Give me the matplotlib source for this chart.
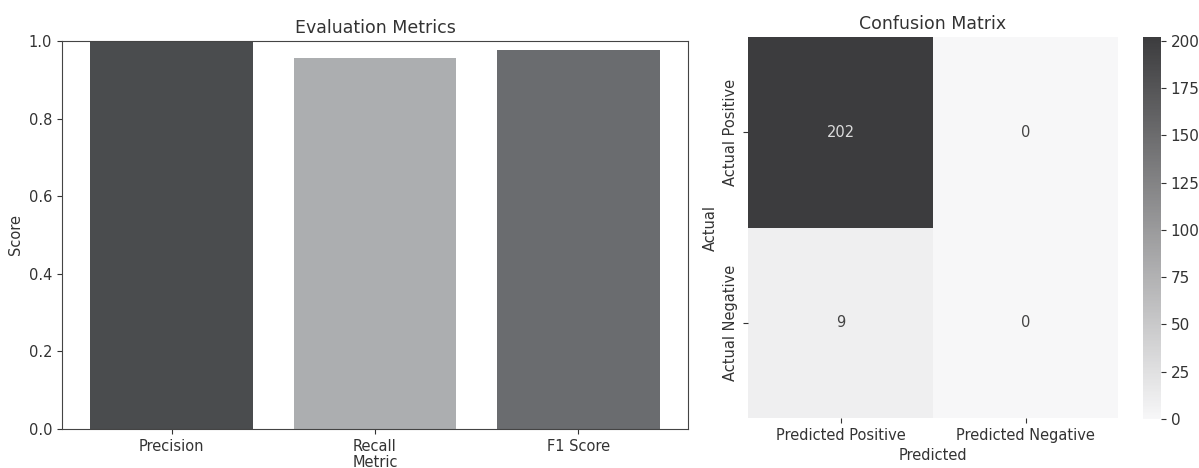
import numpy as np
import matplotlib
matplotlib.use("Agg")
import matplotlib.pyplot as plt
import seaborn as sns
from matplotlib.colors import LinearSegmentedColormap

# evaluation results
metrics = ["Precision", "Recall", "F1 Score"]
scores = [1.0, 0.957, 0.978]
bar_colors = ["#4a4c4e", "#acaeb0", "#6a6c6f"]

cm_values = [[202, 0],
             [9, 0]]
cm_cols = ["Predicted Positive", "Predicted Negative"]
cm_rows = ["Actual Positive", "Actual Negative"]

plt.rcParams["font.family"] = ["DejaVu Sans"]
plt.rcParams["font.size"] = 10.5
plt.rcParams["text.color"] = "#333333"
plt.rcParams["axes.labelcolor"] = "#333333"
plt.rcParams["xtick.color"] = "#333333"
plt.rcParams["ytick.color"] = "#333333"
plt.rcParams["axes.edgecolor"] = "#444444"

fig = plt.figure(figsize=(11.99, 4.68), dpi=100)

# bar chart of the scores
ax1 = fig.add_axes([62 / 1199, 1 - 429 / 468, 626 / 1199, 388 / 468])
ax1.bar(metrics, scores, color=bar_colors, width=0.8)
ax1.set_ylim(0, 1.0)
ax1.set_yticks(np.arange(0, 1.01, 0.2))
ax1.set_title("Evaluation Metrics", fontsize=12.5)
ax1.set_xlabel("Metric", labelpad=1)
ax1.set_ylabel("Score")

# confusion matrix heatmap
ax2 = fig.add_axes([748 / 1199, 1 - 418 / 468, 370 / 1199, 381 / 468])
cax = fig.add_axes([1143 / 1199, 1 - 419 / 468, 18 / 1199, 382 / 468])
cmap = LinearSegmentedColormap.from_list("grey_cm", ["#f7f7f8", "#3c3c3e"])
sns.heatmap(np.array(cm_values), annot=True, fmt="d", cmap=cmap,
            vmin=0, vmax=202, xticklabels=cm_cols, yticklabels=cm_rows,
            ax=ax2, cbar_ax=cax, annot_kws={"fontsize": 10.5})
for t in ax2.texts:
    if t.get_text() == "202":
        t.set_color("#dddddd")
    else:
        t.set_color("#444444")
ax2.set_title("Confusion Matrix", fontsize=12.5)
ax2.set_xlabel("Predicted")
ax2.set_ylabel("Actual")
cax.set_yticks([0, 25, 50, 75, 100, 125, 150, 175, 200])
cax.tick_params(labelsize=11)
for spine in cax.spines.values():
    spine.set_visible(False)

plt.savefig("out.png", dpi=100)
